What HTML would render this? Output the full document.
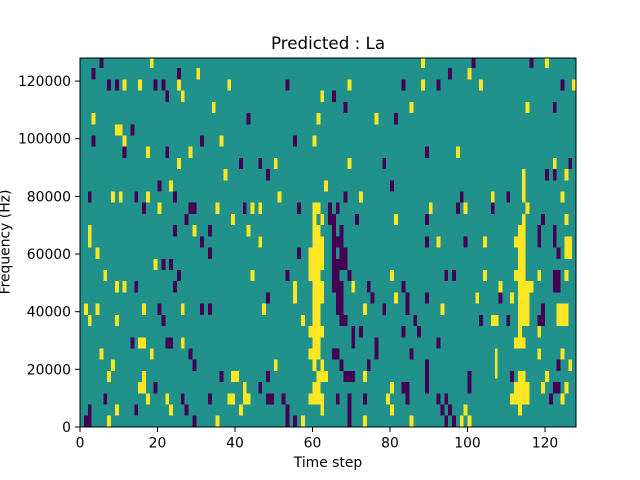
<!DOCTYPE html>
<html><head><meta charset="utf-8"><style>html,body{margin:0;padding:0;background:#fff}svg{display:block}</style></head><body>
<svg width="640" height="480" xmlns="http://www.w3.org/2000/svg" font-family="DejaVu Sans, Liberation Sans, sans-serif">
<rect width="640" height="480" fill="#fff"/>
<defs>
<clipPath id="c"><rect x="80" y="58" width="496" height="369"/></clipPath>
</defs>
<rect x="80" y="58" width="496" height="369" fill="#21918c"/>
<g clip-path="url(#c)">
<g transform="translate(80,57) scale(3.875,11.21)" shape-rendering="crispEdges">
<g fill="#fde725">
<rect x="18" y="0" width="1" height="1"/><rect x="88" y="0" width="1" height="1"/><rect x="120" y="0" width="1" height="1"/>
<rect x="30" y="1" width="1" height="1"/><rect x="100" y="1" width="1" height="1"/>
<rect x="11" y="2" width="1" height="1"/><rect x="15" y="2" width="1" height="1"/><rect x="25" y="2" width="1" height="1"/><rect x="38" y="2" width="1" height="1"/><rect x="69" y="2" width="1" height="1"/><rect x="88" y="2" width="1" height="1"/><rect x="103" y="2" width="1" height="1"/><rect x="127" y="2" width="1" height="1"/>
<rect x="26" y="3" width="1" height="1"/><rect x="62" y="3" width="1" height="1"/>
<rect x="34" y="4" width="1" height="1"/><rect x="85" y="4" width="1" height="1"/><rect x="115" y="4" width="1" height="1"/>
<rect x="3" y="5" width="1" height="1"/><rect x="61" y="5" width="1" height="1"/><rect x="76" y="5" width="1" height="1"/>
<rect x="9" y="6" width="2" height="1"/>
<rect x="11" y="7" width="1" height="1"/><rect x="36" y="7" width="1" height="1"/><rect x="60" y="7" width="1" height="1"/>
<rect x="17" y="8" width="1" height="1"/><rect x="28" y="8" width="1" height="1"/><rect x="97" y="8" width="1" height="1"/>
<rect x="25" y="9" width="1" height="1"/><rect x="50" y="9" width="1" height="1"/><rect x="69" y="9" width="1" height="1"/><rect x="122" y="9" width="1" height="1"/>
<rect x="37" y="10" width="1" height="1"/><rect x="114" y="10" width="1" height="1"/><rect x="125" y="10" width="1" height="1"/>
<rect x="23" y="11" width="1" height="1"/><rect x="63" y="11" width="1" height="1"/><rect x="114" y="11" width="1" height="1"/>
<rect x="8" y="12" width="1" height="1"/><rect x="10" y="12" width="1" height="1"/><rect x="17" y="12" width="1" height="1"/><rect x="51" y="12" width="1" height="1"/><rect x="72" y="12" width="1" height="1"/><rect x="106" y="12" width="1" height="1"/><rect x="114" y="12" width="1" height="1"/><rect x="124" y="12" width="1" height="1"/>
<rect x="20" y="13" width="1" height="1"/><rect x="35" y="13" width="1" height="1"/><rect x="44" y="13" width="1" height="1"/><rect x="46" y="13" width="1" height="1"/><rect x="60" y="13" width="2" height="1"/><rect x="90" y="13" width="1" height="1"/><rect x="99" y="13" width="1" height="1"/><rect x="115" y="13" width="1" height="1"/>
<rect x="39" y="14" width="1" height="1"/><rect x="60" y="14" width="1" height="1"/><rect x="62" y="14" width="1" height="1"/><rect x="81" y="14" width="1" height="1"/><rect x="114" y="14" width="1" height="1"/><rect x="125" y="14" width="1" height="1"/>
<rect x="2" y="15" width="1" height="1"/><rect x="29" y="15" width="1" height="1"/><rect x="43" y="15" width="1" height="1"/><rect x="60" y="15" width="2" height="1"/><rect x="113" y="15" width="2" height="1"/>
<rect x="2" y="16" width="1" height="1"/><rect x="46" y="16" width="1" height="1"/><rect x="60" y="16" width="3" height="1"/><rect x="92" y="16" width="1" height="1"/><rect x="104" y="16" width="1" height="1"/><rect x="112" y="16" width="3" height="1"/><rect x="125" y="16" width="2" height="1"/>
<rect x="4" y="17" width="1" height="1"/><rect x="59" y="17" width="4" height="1"/><rect x="113" y="17" width="2" height="1"/><rect x="125" y="17" width="2" height="1"/>
<rect x="19" y="18" width="1" height="1"/><rect x="59" y="18" width="4" height="1"/><rect x="113" y="18" width="2" height="1"/>
<rect x="6" y="19" width="1" height="1"/><rect x="44" y="19" width="1" height="1"/><rect x="59" y="19" width="3" height="1"/><rect x="80" y="19" width="1" height="1"/><rect x="104" y="19" width="1" height="1"/><rect x="112" y="19" width="3" height="1"/><rect x="118" y="19" width="1" height="1"/><rect x="125" y="19" width="1" height="1"/>
<rect x="9" y="20" width="1" height="1"/><rect x="11" y="20" width="1" height="1"/><rect x="55" y="20" width="1" height="1"/><rect x="60" y="20" width="3" height="1"/><rect x="70" y="20" width="1" height="1"/><rect x="108" y="20" width="1" height="1"/><rect x="113" y="20" width="4" height="1"/>
<rect x="55" y="21" width="1" height="1"/><rect x="60" y="21" width="3" height="1"/><rect x="81" y="21" width="1" height="1"/><rect x="102" y="21" width="1" height="1"/><rect x="111" y="21" width="1" height="1"/><rect x="113" y="21" width="3" height="1"/>
<rect x="1" y="22" width="1" height="1"/><rect x="4" y="22" width="1" height="1"/><rect x="16" y="22" width="1" height="1"/><rect x="26" y="22" width="1" height="1"/><rect x="47" y="22" width="1" height="1"/><rect x="60" y="22" width="2" height="1"/><rect x="73" y="22" width="1" height="1"/><rect x="93" y="22" width="1" height="1"/><rect x="113" y="22" width="3" height="1"/><rect x="123" y="22" width="3" height="1"/>
<rect x="2" y="23" width="1" height="1"/><rect x="9" y="23" width="1" height="1"/><rect x="57" y="23" width="1" height="1"/><rect x="60" y="23" width="2" height="1"/><rect x="106" y="23" width="2" height="1"/><rect x="113" y="23" width="3" height="1"/><rect x="123" y="23" width="3" height="1"/>
<rect x="59" y="24" width="4" height="1"/><rect x="113" y="24" width="1" height="1"/><rect x="118" y="24" width="1" height="1"/>
<rect x="15" y="25" width="2" height="1"/><rect x="26" y="25" width="1" height="1"/><rect x="60" y="25" width="2" height="1"/><rect x="112" y="25" width="3" height="1"/>
<rect x="5" y="26" width="1" height="1"/><rect x="18" y="26" width="1" height="1"/><rect x="59" y="26" width="3" height="1"/><rect x="118" y="26" width="1" height="1"/><rect x="124" y="26" width="1" height="1"/>
<rect x="8" y="27" width="1" height="1"/><rect x="50" y="27" width="1" height="1"/><rect x="60" y="27" width="1" height="1"/><rect x="62" y="27" width="1" height="1"/><rect x="126" y="27" width="1" height="1"/>
<rect x="7" y="28" width="1" height="1"/><rect x="16" y="28" width="1" height="1"/><rect x="39" y="28" width="2" height="1"/><rect x="61" y="28" width="3" height="1"/><rect x="73" y="28" width="1" height="1"/><rect x="113" y="28" width="2" height="1"/><rect x="120" y="28" width="1" height="1"/>
<rect x="15" y="29" width="2" height="1"/><rect x="42" y="29" width="1" height="1"/><rect x="60" y="29" width="2" height="1"/><rect x="80" y="29" width="1" height="1"/><rect x="112" y="29" width="4" height="1"/><rect x="119" y="29" width="1" height="1"/><rect x="125" y="29" width="1" height="1"/>
<rect x="17" y="30" width="1" height="1"/><rect x="22" y="30" width="1" height="1"/><rect x="38" y="30" width="2" height="1"/><rect x="42" y="30" width="2" height="1"/><rect x="59" y="30" width="4" height="1"/><rect x="79" y="30" width="1" height="1"/><rect x="111" y="30" width="5" height="1"/><rect x="124" y="30" width="1" height="1"/>
<rect x="9" y="31" width="1" height="1"/><rect x="23" y="31" width="1" height="1"/><rect x="41" y="31" width="1" height="1"/><rect x="62" y="31" width="1" height="1"/><rect x="80" y="31" width="1" height="1"/><rect x="99" y="31" width="1" height="1"/><rect x="113" y="31" width="1" height="1"/>
<rect x="7" y="32" width="1" height="1"/><rect x="35" y="32" width="1" height="1"/><rect x="57" y="32" width="1" height="1"/><rect x="73" y="32" width="1" height="1"/><rect x="85" y="32" width="1" height="1"/><rect x="98" y="32" width="1" height="1"/><rect x="100" y="32" width="1" height="1"/>
<rect x="107.1" y="26" width="0.6" height="2.7"/>
</g>
<g fill="#440154">
<rect x="5" y="0" width="1" height="1"/><rect x="101" y="0" width="1" height="1"/><rect x="116" y="0" width="1" height="1"/>
<rect x="3" y="1" width="1" height="1"/><rect x="25" y="1" width="1" height="1"/><rect x="95" y="1" width="1" height="1"/>
<rect x="7" y="2" width="1" height="1"/><rect x="9" y="2" width="1" height="1"/><rect x="19" y="2" width="1" height="1"/><rect x="21" y="2" width="1" height="1"/><rect x="53" y="2" width="1" height="1"/><rect x="83" y="2" width="1" height="1"/><rect x="92" y="2" width="1" height="1"/><rect x="124" y="2" width="1" height="1"/>
<rect x="22" y="3" width="1" height="1"/><rect x="65" y="3" width="1" height="1"/>
<rect x="68" y="4" width="1" height="1"/><rect x="122" y="4" width="1" height="1"/>
<rect x="43" y="5" width="1" height="1"/><rect x="81" y="5" width="1" height="1"/>
<rect x="13" y="6" width="1" height="1"/>
<rect x="3" y="7" width="1" height="1"/><rect x="31" y="7" width="1" height="1"/><rect x="55" y="7" width="1" height="1"/>
<rect x="11" y="8" width="1" height="1"/><rect x="22" y="8" width="1" height="1"/><rect x="89" y="8" width="1" height="1"/>
<rect x="41" y="9" width="1" height="1"/><rect x="46" y="9" width="1" height="1"/><rect x="78" y="9" width="1" height="1"/><rect x="126" y="9" width="1" height="1"/>
<rect x="48" y="10" width="1" height="1"/><rect x="120" y="10" width="1" height="1"/><rect x="122" y="10" width="1" height="1"/>
<rect x="20" y="11" width="1" height="1"/><rect x="80" y="11" width="1" height="1"/>
<rect x="2" y="12" width="1" height="1"/><rect x="14" y="12" width="1" height="1"/><rect x="24" y="12" width="1" height="1"/><rect x="68" y="12" width="1" height="1"/><rect x="98" y="12" width="1" height="1"/><rect x="110" y="12" width="1" height="1"/>
<rect x="16" y="13" width="1" height="1"/><rect x="28" y="13" width="2" height="1"/><rect x="42" y="13" width="1" height="1"/><rect x="56" y="13" width="1" height="1"/><rect x="64" y="13" width="1" height="1"/><rect x="66" y="13" width="1" height="1"/><rect x="97" y="13" width="1" height="1"/><rect x="106" y="13" width="1" height="1"/>
<rect x="27" y="14" width="1" height="1"/><rect x="64" y="14" width="2" height="1"/><rect x="71" y="14" width="1" height="1"/><rect x="89" y="14" width="1" height="1"/><rect x="119" y="14" width="1" height="1"/>
<rect x="24" y="15" width="1" height="1"/><rect x="33" y="15" width="1" height="1"/><rect x="65" y="15" width="1" height="1"/><rect x="67" y="15" width="1" height="1"/><rect x="118" y="15" width="1" height="1"/><rect x="122" y="15" width="1" height="1"/>
<rect x="31" y="16" width="1" height="1"/><rect x="65" y="16" width="3" height="1"/><rect x="89" y="16" width="1" height="1"/><rect x="99" y="16" width="1" height="1"/><rect x="118" y="16" width="1" height="1"/><rect x="122" y="16" width="1" height="1"/>
<rect x="33" y="17" width="1" height="1"/><rect x="56" y="17" width="1" height="1"/><rect x="65" y="17" width="1" height="1"/><rect x="67" y="17" width="2" height="1"/><rect x="123" y="17" width="1" height="1"/>
<rect x="21" y="18" width="1" height="1"/><rect x="23" y="18" width="1" height="1"/><rect x="65" y="18" width="4" height="1"/>
<rect x="25" y="19" width="1" height="1"/><rect x="53" y="19" width="1" height="1"/><rect x="65" y="19" width="2" height="1"/><rect x="69" y="19" width="1" height="1"/><rect x="94" y="19" width="1" height="1"/><rect x="96" y="19" width="1" height="1"/><rect x="122" y="19" width="2" height="1"/>
<rect x="14" y="20" width="1" height="1"/><rect x="24" y="20" width="1" height="1"/><rect x="65" y="20" width="3" height="1"/><rect x="74" y="20" width="1" height="1"/><rect x="83" y="20" width="1" height="1"/><rect x="122" y="20" width="2" height="1"/>
<rect x="48" y="21" width="1" height="1"/><rect x="66" y="21" width="2" height="1"/><rect x="75" y="21" width="1" height="1"/><rect x="84" y="21" width="1" height="1"/><rect x="89" y="21" width="1" height="1"/><rect x="108" y="21" width="1" height="1"/>
<rect x="20" y="22" width="1" height="1"/><rect x="31" y="22" width="1" height="1"/><rect x="33" y="22" width="1" height="1"/><rect x="66" y="22" width="2" height="1"/><rect x="78" y="22" width="1" height="1"/><rect x="84" y="22" width="1" height="1"/><rect x="119" y="22" width="1" height="1"/>
<rect x="21" y="23" width="1" height="1"/><rect x="67" y="23" width="2" height="1"/><rect x="86" y="23" width="1" height="1"/><rect x="103" y="23" width="1" height="1"/><rect x="110" y="23" width="1" height="1"/><rect x="118" y="23" width="2" height="1"/>
<rect x="70" y="24" width="1" height="1"/><rect x="72" y="24" width="1" height="1"/><rect x="83" y="24" width="1" height="1"/><rect x="87" y="24" width="1" height="1"/>
<rect x="13" y="25" width="1" height="1"/><rect x="22" y="25" width="2" height="1"/><rect x="70" y="25" width="1" height="1"/><rect x="76" y="25" width="1" height="1"/><rect x="92" y="25" width="1" height="1"/>
<rect x="28" y="26" width="1" height="1"/><rect x="65" y="26" width="2" height="1"/><rect x="76" y="26" width="1" height="1"/><rect x="85" y="26" width="1" height="1"/>
<rect x="29" y="27" width="1" height="1"/><rect x="67" y="27" width="1" height="1"/><rect x="74" y="27" width="1" height="1"/><rect x="89" y="27" width="1" height="1"/><rect x="123" y="27" width="1" height="1"/>
<rect x="36" y="28" width="1" height="1"/><rect x="48" y="28" width="1" height="1"/><rect x="68" y="28" width="3" height="1"/><rect x="89" y="28" width="1" height="1"/><rect x="100" y="28" width="1" height="1"/><rect x="111" y="28" width="1" height="1"/>
<rect x="19" y="29" width="1" height="1"/><rect x="46" y="29" width="1" height="1"/><rect x="83" y="29" width="2" height="1"/><rect x="89" y="29" width="1" height="1"/><rect x="100" y="29" width="1" height="1"/><rect x="122" y="29" width="2" height="1"/>
<rect x="6" y="30" width="1" height="1"/><rect x="26" y="30" width="1" height="1"/><rect x="33" y="30" width="1" height="1"/><rect x="48" y="30" width="2" height="1"/><rect x="52" y="30" width="1" height="1"/><rect x="66" y="30" width="1" height="1"/><rect x="69" y="30" width="1" height="1"/><rect x="73" y="30" width="1" height="1"/><rect x="84" y="30" width="1" height="1"/><rect x="92" y="30" width="1" height="1"/><rect x="94" y="30" width="1" height="1"/><rect x="121" y="30" width="1" height="1"/>
<rect x="2" y="31" width="1" height="1"/><rect x="14" y="31" width="1" height="1"/><rect x="27" y="31" width="1" height="1"/><rect x="53" y="31" width="1" height="1"/><rect x="69" y="31" width="1" height="1"/><rect x="93" y="31" width="1" height="1"/><rect x="95" y="31" width="1" height="1"/>
<rect x="1" y="32" width="2" height="1"/><rect x="29" y="32" width="1" height="1"/><rect x="53" y="32" width="1" height="1"/><rect x="55" y="32" width="1" height="1"/><rect x="69" y="32" width="1" height="1"/><rect x="94" y="32" width="1" height="1"/><rect x="96" y="32" width="1" height="1"/>
</g>
</g>
</g>
<rect x="80" y="58" width="496" height="369" fill="none" stroke="#000" stroke-width="1"/>
<g stroke="#000" stroke-width="1">
<line x1="80" y1="427" x2="80" y2="432"/><line x1="157.5" y1="427" x2="157.5" y2="432"/><line x1="235" y1="427" x2="235" y2="432"/><line x1="312.5" y1="427" x2="312.5" y2="432"/><line x1="390" y1="427" x2="390" y2="432"/><line x1="467.5" y1="427" x2="467.5" y2="432"/><line x1="545" y1="427" x2="545" y2="432"/>
<line x1="75" y1="427" x2="80" y2="427"/><line x1="75" y1="369.3" x2="80" y2="369.3"/><line x1="75" y1="311.7" x2="80" y2="311.7"/><line x1="75" y1="254" x2="80" y2="254"/><line x1="75" y1="196.4" x2="80" y2="196.4"/><line x1="75" y1="138.7" x2="80" y2="138.7"/><line x1="75" y1="81.1" x2="80" y2="81.1"/>
</g>
<g font-size="13.9" fill="#000" text-anchor="middle">
<text x="80" y="447.5">0</text><text x="157.5" y="447.5">20</text><text x="235" y="447.5">40</text><text x="312.5" y="447.5">60</text><text x="390" y="447.5">80</text><text x="467.5" y="447.5">100</text><text x="545" y="447.5">120</text>
</g>
<g font-size="13.9" fill="#000" text-anchor="end">
<text x="71" y="432">0</text><text x="71" y="374.3">20000</text><text x="71" y="316.7">40000</text><text x="71" y="259">60000</text><text x="71" y="201.4">80000</text><text x="71" y="143.7">100000</text><text x="71" y="86.1">120000</text>
</g>
<text x="328" y="467" font-size="13.9" text-anchor="middle">Time step</text>
<text transform="translate(9.5,242) rotate(-90)" font-size="13.9" text-anchor="middle">Frequency (Hz)</text>
<text x="328" y="49" font-size="16.7" text-anchor="middle">Predicted : La</text>
</svg>
</body></html>
